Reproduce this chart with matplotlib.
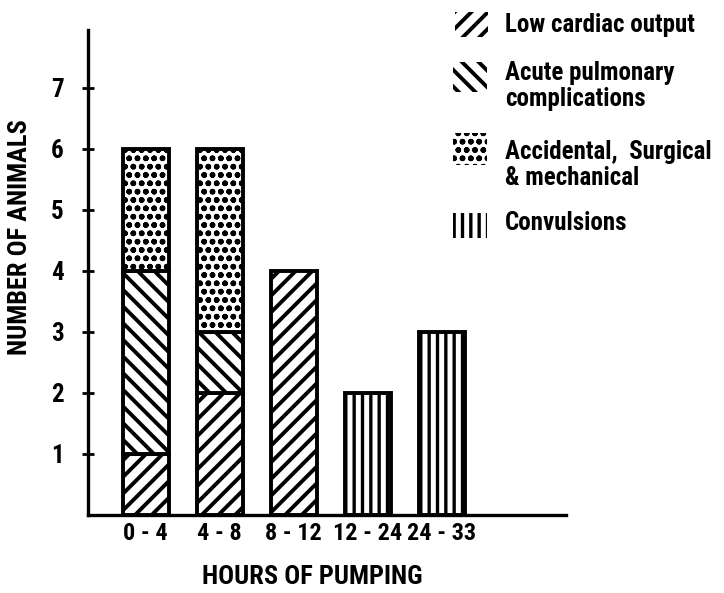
import matplotlib
matplotlib.use("Agg")
import matplotlib.pyplot as plt
from matplotlib.patches import Rectangle
import numpy as np

# animals lost per time window, split by cause
periods = ["0 - 4", "4 - 8", "8 - 12", "12 - 24", "24 - 33"]
low_cardiac = [1, 2, 4, 0, 0]
acute_pulmonary = [3, 1, 0, 0, 0]
accidental = [2, 3, 0, 0, 0]
convulsions = [0, 0, 0, 2, 3]

causes = ["Low cardiac output", "Acute pulmonary\ncomplications",
          "Accidental,  Surgical\n& mechanical", "Convulsions"]
hatches = ["//", "\\\\", "oo", "||"]
hatch_widths = [2.8, 2.8, 1.7, 2.4]

plt.rcParams["font.family"] = ["Roboto Condensed", "Archivo Narrow", "PT Sans Narrow", "DejaVu Sans"]
plt.rcParams["font.weight"] = "bold"
plt.rcParams["hatch.linewidth"] = 2.8


def set_hatch_width(patch, lw):
    # per-patch hatch width where the installed matplotlib supports it
    if hasattr(patch, "set_hatch_linewidth"):
        patch.set_hatch_linewidth(lw)


fig = plt.figure(figsize=(7.24, 5.93), dpi=100)
ax = fig.add_axes([88 / 724, 1 - 515 / 593, (566 - 88) / 724, (515 - 30) / 593])

x = np.arange(len(periods))
width = 0.62
bottom = np.zeros(len(periods))
for values, hatch, hw in zip([low_cardiac, acute_pulmonary, accidental, convulsions],
                             hatches, hatch_widths):
    values = np.array(values, dtype=float)
    mask = values > 0
    bars = ax.bar(x[mask], values[mask], width, bottom=bottom[mask], color="white",
                  edgecolor="black", linewidth=2.8, hatch=hatch, zorder=2)
    for b in bars:
        set_hatch_width(b, hw)
    bottom += values

ax.set_xlim(-0.78, 5.68)
ax.set_ylim(0, 7.95)
for side in ["top", "right"]:
    ax.spines[side].set_visible(False)
for side in ["left", "bottom"]:
    ax.spines[side].set_linewidth(2.4)

ax.set_yticks(range(1, 8))
ax.set_yticklabels([str(v) for v in range(1, 8)], fontsize=18)
ax.tick_params(axis="y", direction="inout", length=9, width=2, pad=13)
ax.set_xticks(x)
ax.set_xticklabels(periods, fontsize=17.5)
ax.tick_params(axis="x", length=0, pad=5)

fig.text(20 / 724, 1 - 237 / 593, "NUMBER OF ANIMALS", rotation=90,
         ha="center", va="center", fontsize=19)
fig.text(312 / 724, 1 - 577 / 593, "HOURS OF PUMPING",
         ha="center", va="center", fontsize=19)

# legend swatches drawn without outlines, text to the right
swatches = [(455, 12, 33, 25), (453, 62, 34, 30), (453, 133, 34, 32), (453, 213, 34, 25)]
text_y = [25, 86, 165, 223]
for (sx, sy, sw, sh), label, hatch, hw, ty in zip(swatches, causes, hatches, hatch_widths, text_y):
    swatch = Rectangle((sx / 724, 1 - (sy + sh) / 593), sw / 724, sh / 593,
                       transform=fig.transFigure, facecolor="white",
                       edgecolor="black", linewidth=0, hatch=hatch)
    set_hatch_width(swatch, hw)
    fig.add_artist(swatch)
    fig.text(505 / 724, 1 - ty / 593, label, ha="left", va="center",
             fontsize=18, linespacing=1.15)

fig.savefig("out.png", dpi=100)
